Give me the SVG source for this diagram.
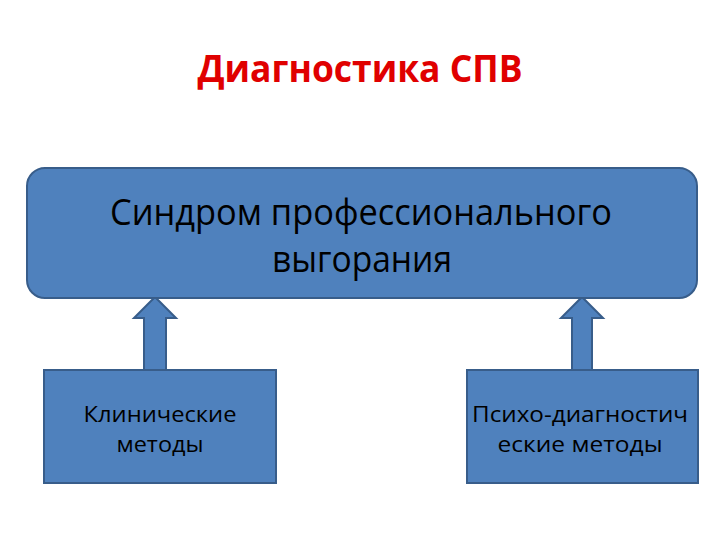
<svg xmlns="http://www.w3.org/2000/svg" width="720" height="540" viewBox="0 0 720 540">
<style>
.box{fill:#4F81BD;stroke:#385D8A;stroke-width:2}
.t{font-family:"Open Sans","Noto Sans","DejaVu Sans",sans-serif;fill:#000;text-anchor:middle}
.title{font-family:"Open Sans","Noto Sans",sans-serif;font-weight:bold;fill:#E00000;text-anchor:middle}
</style>
<rect width="720" height="540" fill="#fff"/>
<text class="title" x="360" y="82" font-size="37" textLength="325" lengthAdjust="spacingAndGlyphs">Диагностика СПВ</text>
<g id="connectors">
<path class="box" d="M144,370 V318 H134 L155,297 L176,318 H166 V370 Z"/>
<path class="box" d="M572,370 V318 H561 L582,297 L603,318 H592 V370 Z"/>
</g>
<g id="syndrome">
<rect class="box" x="27" y="168" width="670" height="130" rx="18"/>
<text class="t" font-size="36"><tspan x="361" y="225" textLength="502" lengthAdjust="spacingAndGlyphs">Синдром профессионального</tspan><tspan x="362" y="272" textLength="180" lengthAdjust="spacingAndGlyphs">выгорания</tspan></text>
</g>
<g id="clinical">
<rect class="box" x="44" y="370" width="232" height="113"/>
<text class="t" font-size="22"><tspan x="160" y="422" textLength="153" lengthAdjust="spacingAndGlyphs">Клинические</tspan><tspan x="160" y="452" textLength="87" lengthAdjust="spacingAndGlyphs">методы</tspan></text>
</g>
<g id="psycho">
<rect class="box" x="467" y="370" width="231" height="113"/>
<text class="t" font-size="22"><tspan x="580" y="422" textLength="216" lengthAdjust="spacingAndGlyphs">Психо-диагностич</tspan><tspan x="580" y="452" textLength="165" lengthAdjust="spacingAndGlyphs">еские методы</tspan></text>
</g>
</svg>
